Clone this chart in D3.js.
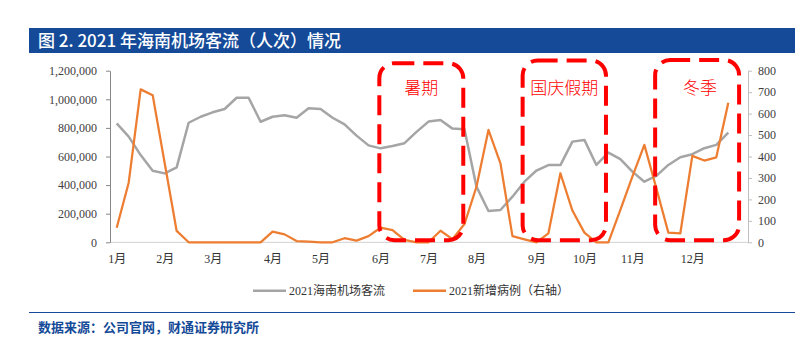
<!DOCTYPE html>
<html>
<head>
<meta charset="utf-8">
<script src="https://cdn.jsdelivr.net/npm/d3@7/dist/d3.min.js"></script>
<style>
  html, body { margin: 0; padding: 0; background: #fff; }
  svg { display: block; }
</style>
</head>
<body>
<svg id="chart" width="795" height="341"></svg>
<script>
// Weekly series for 2021 (52 weeks)
const weeks = d3.range(52);
const passengers = [832000, 739000, 610000, 501000, 482000, 524000, 836000, 878000, 909000, 932000,
  1011000, 1011000, 843000, 878000, 888000, 871000, 937000, 932000, 871000, 825000,
  746000, 678000, 657000, 674000, 693000, 772000, 844000, 855000, 795000, 791000,
  389000, 219000, 226000, 319000, 424000, 502000, 540000, 540000, 704000, 716000,
  541000, 627000, 581000, 494000, 424000, 464000, 541000, 595000, 616000, 658000,
  681000, 767000];
const newCases = [68, 278, 713, 686, 370, 53, 0, 0, 0, 0,
  0, 0, 0, 50, 37, 6, 3, 0, 0, 19,
  8, 29, 68, 57, 11, 0, 0, 54, 15, 85,
  259, 524, 368, 29, 14, 0, 42, 322, 148, 45,
  0, 0, 151, 306, 454, 252, 45, 42, 403, 381,
  396, 651];

// Month labels and the week each one sits on
const monthLabels = ["1月","2月","3月","4月","5月","6月","7月","8月","9月","10月","11月","12月"];
const monthWeeks = [0, 4, 8, 13, 17, 22, 26, 30, 35, 39, 43, 48];

const leftTicks = [0, 200000, 400000, 600000, 800000, 1000000, 1200000];
const rightTicks = [0, 100, 200, 300, 400, 500, 600, 700, 800];

// Highlighted periods (week span, top value on right axis)
const periodLabels = ["暑期", "国庆假期", "冬季"];
const periodStart = [21.9, 33.85, 44.9];
const periodEnd = [28.9, 40.8, 51.9];
const periodTop = [835, 848, 850];

const seriesNames = ["2021海南机场客流", "2021新增病例（右轴）"];

const GRAY = "#a5a5a5";
const ORANGE = "#ed7d31";
const BLUE = "#144a98";
const serif = "'Liberation Serif', 'Times New Roman', 'Noto Sans CJK SC', serif";
const cjk = "'Noto Sans CJK SC', sans-serif";

const svg = d3.select("#chart");

// Title bar
svg.append("rect").attr("x", 29).attr("y", 28).attr("width", 766).attr("height", 25).attr("fill", BLUE);
svg.append("text").attr("x", 38).attr("y", 41).attr("dy", "0.36em")
  .attr("fill", "#fff").attr("font-family", cjk).attr("font-size", 17).attr("font-weight", 500)
  .text("图 2. 2021 年海南机场客流（人次）情况");

// Footer
svg.append("line").attr("x1", 29).attr("x2", 795).attr("y1", 312.5).attr("y2", 312.5)
  .attr("stroke", BLUE).attr("stroke-width", 1);
svg.append("text").attr("x", 38).attr("y", 327.5).attr("dy", "0.36em")
  .attr("fill", BLUE).attr("font-family", cjk).attr("font-size", 13).attr("font-weight", "bold")
  .text("数据来源：公司官网，财通证券研究所");

// Scales
const plotL = 110, plotR = 748, plotT = 70.7, plotB = 242.3;
const x = d3.scaleLinear().domain([0, 51]).range([116.7, 728.3]);
const yL = d3.scaleLinear().domain([0, 1200000]).range([plotB, plotT]);
const yR = d3.scaleLinear().domain([0, 800]).range([plotB, plotT]);

// Baseline
svg.append("line").attr("x1", plotL).attr("x2", plotR).attr("y1", plotB).attr("y2", plotB)
  .attr("stroke", "#d0d0d0").attr("stroke-width", 1);

// Left axis
const gL = svg.append("g").attr("transform", `translate(${plotL},0)`)
  .call(d3.axisLeft(yL).tickValues(leftTicks).tickFormat(d3.format(",")).tickSize(4).tickSizeOuter(0).tickPadding(9));
gL.select(".domain").attr("stroke", "#868686");
gL.selectAll(".tick line").attr("stroke", "#868686");
gL.selectAll("text").attr("font-family", serif).attr("font-size", 12).attr("fill", "#404040");

// Right axis
const gR = svg.append("g").attr("transform", `translate(${plotR},0)`)
  .call(d3.axisRight(yR).tickValues(rightTicks).tickSize(4).tickSizeOuter(0).tickPadding(6));
gR.select(".domain").attr("stroke", "#bfbfbf");
gR.selectAll(".tick line").attr("stroke", "#bfbfbf");
gR.selectAll("text").attr("font-family", serif).attr("font-size", 12).attr("fill", "#404040");

// Bottom axis (labels only)
const gB = svg.append("g").attr("transform", `translate(0,${plotB})`)
  .call(d3.axisBottom(x).tickValues(monthWeeks).tickFormat((d, i) => monthLabels[i]).tickSize(0).tickPadding(12));
gB.select(".domain").remove();
gB.selectAll("text").attr("font-family", serif).attr("font-size", 12).attr("fill", "#333");

// Lines
const lineL = d3.line().x((d, i) => x(weeks[i])).y(d => yL(d));
const lineR = d3.line().x((d, i) => x(weeks[i])).y(d => yR(d));

svg.append("path").datum(passengers).attr("d", lineL)
  .attr("fill", "none").attr("stroke", GRAY).attr("stroke-width", 2.5).attr("stroke-linejoin", "round");
svg.append("path").datum(newCases).attr("d", lineR)
  .attr("fill", "none").attr("stroke", ORANGE).attr("stroke-width", 2.25).attr("stroke-linejoin", "round");

// Highlight boxes
const boxes = svg.append("g");
periodLabels.forEach((lab, i) => {
  const x0 = x(periodStart[i]), x1 = x(periodEnd[i]);
  const y0 = yR(periodTop[i]), y1 = yR(10);
  boxes.append("rect").attr("x", x0).attr("y", y0).attr("width", x1 - x0).attr("height", y1 - y0)
    .attr("rx", 15).attr("ry", 15).attr("fill", "none").attr("stroke", "#ff0000")
    .attr("stroke-width", 4).attr("stroke-dasharray", "20 9");
  boxes.append("text").attr("x", (x0 + x1) / 2 + (i === 2 ? 3 : 0)).attr("y", yR(720)).attr("dy", "0.36em")
    .attr("text-anchor", "middle").attr("fill", "#ff0000").attr("font-family", cjk).attr("font-size", 17)
    .attr("font-weight", 300)
    .text(lab);
});

// Legend
const legend = svg.append("g").attr("transform", "translate(0,290.7)");
const legendItems = [
  { name: seriesNames[0], color: GRAY, x: 253 },
  { name: seriesNames[1], color: ORANGE, x: 413 }
];
legendItems.forEach(it => {
  legend.append("line").attr("x1", it.x).attr("x2", it.x + 33).attr("y1", 0).attr("y2", 0)
    .attr("stroke", it.color).attr("stroke-width", 2.5);
  legend.append("text").attr("x", it.x + 36).attr("y", 0).attr("dy", "0.36em")
    .attr("font-family", serif).attr("font-size", 12).attr("fill", "#333").text(it.name);
});
</script>
</body>
</html>
